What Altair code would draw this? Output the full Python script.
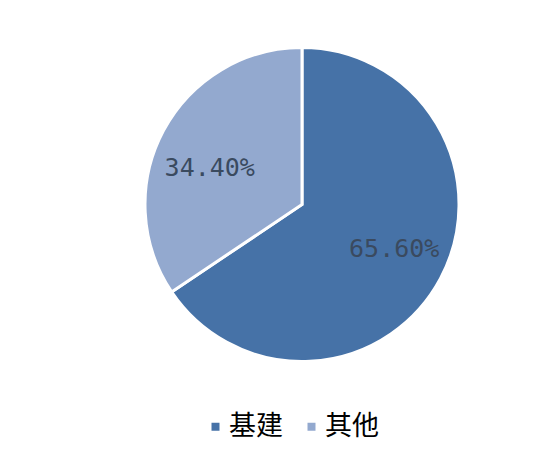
import altair as alt
import pandas as pd

categories = ["基建", "其他"]
values = [65.6, 34.4]
labels = ["65.60%", "34.40%"]
colors = ["#4672A7", "#93A9CF"]

df = pd.DataFrame({"cat": categories, "val": values, "label": labels, "ord": [0, 1]})

theta_scale = alt.Scale(domain=[0, 100])

arcs = alt.Chart(df).mark_arc(outerRadius=157, stroke="white", strokeWidth=3).encode(
    theta=alt.Theta("val:Q", stack=True, scale=theta_scale),
    order=alt.Order("ord:Q"),
    x=alt.value(294),
    y=alt.value(196.5),
    color=alt.Color(
        "cat:N",
        scale=alt.Scale(domain=categories, range=colors),
        sort=categories,
        legend=alt.Legend(
            title=None,
            orient="none",
            legendX=194,
            legendY=405,
            direction="horizontal",
            symbolType="square",
            symbolSize=64,
            symbolStrokeWidth=0,
            labelFont="Noto Sans CJK SC",
            labelFontSize=27,
            labelColor="#000000",
            labelOffset=0,
            columnPadding=15,
        ),
    ),
)

def label_layer(cat, dx, dy):
    return (
        alt.Chart(df)
        .transform_window(cum="sum(val)", sort=[alt.SortField("ord")])
        .transform_calculate(mid="datum.cum - datum.val / 2")
        .transform_filter(alt.datum.cat == cat)
        .mark_text(
            radius=100,
            font="DejaVu Sans Mono",
            fontSize=25,
            color="#3A4A5F",
            dx=dx,
            dy=dy,
        )
        .encode(
            theta=alt.Theta("mid:Q", stack=None, scale=theta_scale),
            x=alt.value(294),
            y=alt.value(196.5),
            text="label:N",
        )
    )

text1 = label_layer(categories[0], 4, -3)
text2 = label_layer(categories[1], -4, 11)

chart = (
    alt.layer(arcs, text1, text2)
    .properties(width=526, height=438, autosize=alt.AutoSizeParams(type="none"), padding=0)
    .configure_view(stroke=None)
)

chart.save("out.html", embed_options={"renderer": "svg", "actions": False})
